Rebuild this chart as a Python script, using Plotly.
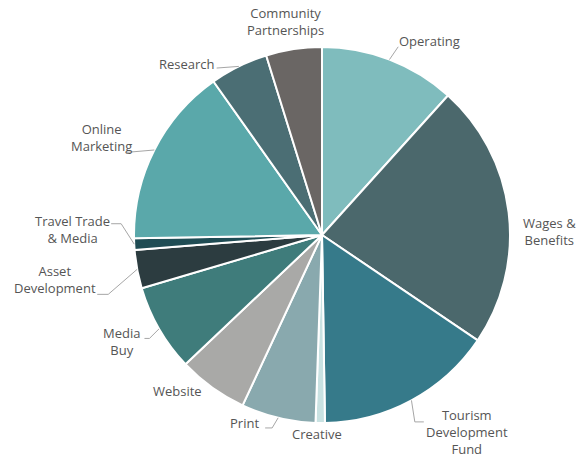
import math
import plotly.graph_objects as go

# ---- data ----
categories = ["Operating", "Wages & Benefits", "Tourism Development Fund", "Creative",
              "Print", "Website", "Media Buy", "Asset Development",
              "Travel Trade & Media", "Online Marketing", "Research", "Community Partnerships"]
values = [11.7, 22.8, 15.3, 0.8, 6.4, 6.0, 7.5, 3.3, 1.0, 15.5, 5.0, 4.8]
label_text = ["Operating", "Wages &<br>Benefits", "Tourism<br>Development<br>Fund", "Creative",
              "Print", "Website", "Media<br>Buy", "Asset<br>Development",
              "Travel Trade<br>& Media", "Online<br>Marketing", "Research", "Community<br>Partnerships"]
colors = ["#7fbcbd", "#4b686c", "#367a8a", "#c9e2e2", "#89a9ae", "#a9a9a7",
          "#3f7c7b", "#2c3c40", "#1f4c54", "#5aa8aa", "#4b6e74", "#6a6664"]

# ---- layout / style ----
W, H = 586, 459
CX, CY, R = 322, 235, 188
# label placement style: (angle offset deg, radius factor)
label_style = [(8, 1.18), (6, 1.21), (-8, 1.30), (1, 1.06),
               (9, 1.08), (7, 1.13), (2, 1.21), (1, 1.44),
               (4, 1.33), (-3, 1.28), (-12, 1.16), (-1, 1.15)]
# leader style: None or (elbow angle offset, elbow radius factor, horizontal tail px)
leader_style = [(1, 1.08, 0), None, (2, 1.11, 9), None,
                (1, 1.06, -7), None, (-1, 1.07, -5), (-5, 1.18, -11),
                (6, 1.07, -10), (-4, 1.13, 0), (-6, 1.05, 0), None]

def px_to_paper(x, y):
    return x / W, 1 - y / H

def polar(angle_deg, k):
    a = math.radians(angle_deg)
    return CX + k * R * math.sin(a), CY - k * R * math.cos(a)

total = sum(values)
mids = []
cum = 0.0
for v in values:
    mids.append((cum + v / 2) / total * 360)
    cum += v

fig = go.Figure(go.Pie(
    labels=categories, values=values, sort=False, direction="clockwise", rotation=0,
    marker=dict(colors=colors, line=dict(color="white", width=2)),
    textinfo="none", hoverinfo="label+percent", showlegend=False,
    domain=dict(x=[(CX - R) / W, (CX + R) / W], y=[1 - (CY + R) / H, 1 - (CY - R) / H]),
))

annotations = []
shapes = []
for i, txt in enumerate(label_text):
    dth, k = label_style[i]
    lx, ly = polar(mids[i] + dth, k)
    px, py = px_to_paper(lx, ly)
    annotations.append(dict(x=px, y=py, xref="paper", yref="paper", text=txt, showarrow=False,
                            xanchor="center", yanchor="middle", align="center",
                            font=dict(family="Open Sans", size=13, color="#555555")))
    ls = leader_style[i]
    if ls is not None:
        sx, sy = polar(mids[i], 1.0)
        ex, ey = polar(mids[i] + ls[0], ls[1])
        pts = [(sx, sy), (ex, ey)]
        if ls[2] != 0:
            pts.append((ex + ls[2], ey))
        path = "M " + " L ".join(f"{px_to_paper(x, y)[0]},{px_to_paper(x, y)[1]}" for x, y in pts)
        shapes.append(dict(type="path", xref="paper", yref="paper", path=path,
                           line=dict(color="#a6a6a6", width=1)))

fig.update_layout(width=W, height=H, margin=dict(l=0, r=0, t=0, b=0),
                  paper_bgcolor="white", plot_bgcolor="white",
                  annotations=annotations, shapes=shapes)
fig.write_html("out.html", config={"displayModeBar": False},
               post_script="document.body.style.margin='0';document.body.style.overflow='hidden';")
